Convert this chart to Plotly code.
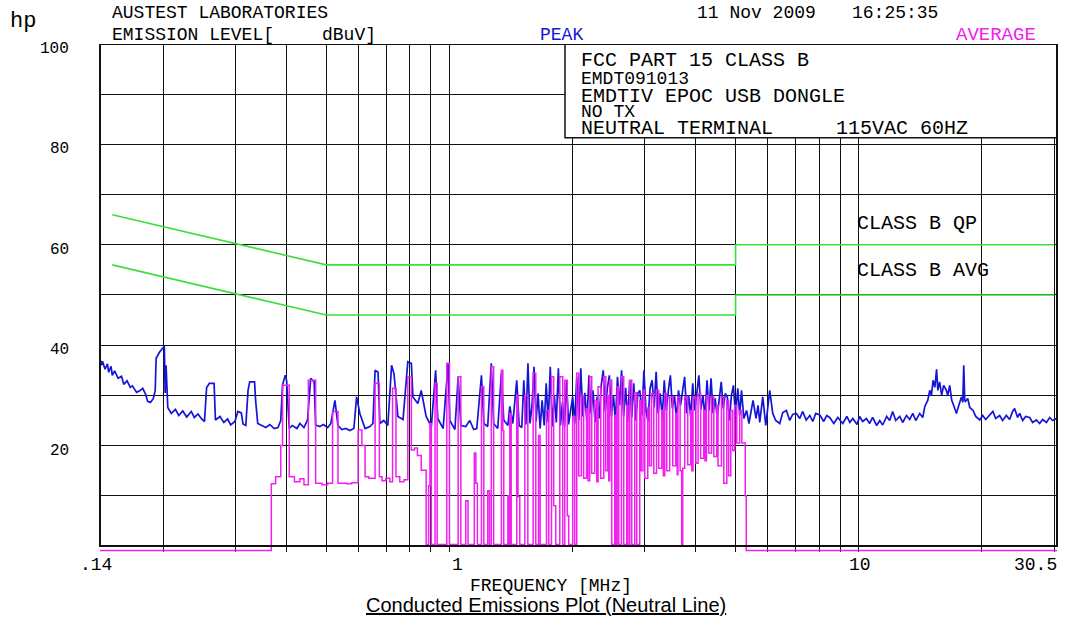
import math
import plotly.graph_objects as go

# ---------------- data ----------------
peak_freq = [0.140, 0.141, 0.142, 0.144, 0.146, 0.147, 0.149, 0.150, 0.152, 0.155, 0.158, 0.160, 0.163, 0.166, 0.168,
             0.172, 0.175, 0.178, 0.181, 0.183, 0.186, 0.189, 0.191, 0.192, 0.196, 0.200, 0.201, 0.202, 0.203, 0.205,
             0.209, 0.214, 0.218, 0.223, 0.228, 0.234, 0.238, 0.243, 0.248, 0.252, 0.255, 0.259, 0.266, 0.268, 0.275,
             0.281, 0.287, 0.292, 0.299, 0.304, 0.310, 0.313, 0.318, 0.322, 0.325, 0.334, 0.336, 0.340, 0.348, 0.356,
             0.364, 0.373, 0.381, 0.387, 0.391, 0.397, 0.400, 0.406, 0.413, 0.424, 0.431, 0.441, 0.450, 0.458, 0.467,
             0.471, 0.482, 0.492, 0.504, 0.513, 0.525, 0.534, 0.546, 0.558, 0.571, 0.584, 0.593, 0.604, 0.622, 0.639,
             0.650, 0.658, 0.669, 0.676, 0.691, 0.707, 0.722, 0.732, 0.748, 0.770, 0.791, 0.807, 0.814, 0.837, 0.853,
             0.877, 0.903, 0.925, 0.936, 0.965, 0.992, 1.002, 1.031, 1.050, 1.066, 1.096, 1.121, 1.146, 1.166, 1.197,
             1.213, 1.240, 1.265, 1.282, 1.312, 1.339, 1.357, 1.389, 1.404, 1.428, 1.460, 1.480,
             1.502, 1.519, 1.537, 1.555, 1.573, 1.591, 1.609, 1.628, 1.646, 1.665, 1.684, 1.704, 1.723, 1.743, 1.763,
             1.783, 1.804, 1.824, 1.845, 1.867, 1.888, 1.910, 1.932, 1.954, 1.977, 2.000, 2.023, 2.046, 2.070, 2.093,
             2.118, 2.142, 2.167, 2.192, 2.217, 2.242, 2.268, 2.294, 2.321, 2.348, 2.375, 2.402, 2.430, 2.458, 2.486,
             2.515, 2.544, 2.573, 2.603, 2.633, 2.663, 2.694, 2.725, 2.756, 2.788, 2.820, 2.852, 2.885, 2.918, 2.952,
             2.986, 3.020, 3.055, 3.090, 3.126, 3.162, 3.198, 3.235, 3.272, 3.310, 3.348, 3.387, 3.426, 3.465, 3.505,
             3.545, 3.586, 3.627, 3.669, 3.711, 3.754, 3.797, 3.841, 3.885, 3.930, 3.975, 4.021, 4.067, 4.114, 4.161,
             4.209, 4.258, 4.307, 4.356, 4.406, 4.457, 4.508, 4.560, 4.613, 4.666, 4.720, 4.774, 4.829, 4.885, 4.941,
             4.998, 5.063, 5.118, 5.169, 5.238, 5.320, 5.390, 5.516, 5.610, 5.674, 5.728, 5.826, 5.926, 6.059,
             6.163, 6.268, 6.410, 6.521, 6.656, 6.781, 6.895, 7.040, 7.173, 7.295, 7.44, 7.59, 7.72, 7.85, 8.03,
             8.21, 8.35, 8.49, 8.69, 8.89, 9.14, 9.35, 9.51, 9.67, 9.90, 10.05, 10.22, 10.44, 10.63, 10.81,
             11.06, 11.25, 11.44, 11.70, 11.90, 12.10, 12.31, 12.59, 12.80, 13.08, 13.32, 13.55, 13.78, 14.09, 14.33,
             14.50, 14.74, 14.91, 15.05, 15.19, 15.34, 15.49, 15.60, 15.76, 15.94, 16.12, 16.37, 16.49, 16.68, 16.87,
             17.06, 17.32, 17.55, 17.82, 17.95, 18.05, 18.15, 18.22, 18.46, 18.67, 19.02, 19.31, 19.74, 20.08, 20.42,
             20.88, 21.27, 21.60, 22.09, 22.46, 22.93, 23.36, 23.76, 24.03, 24.44, 24.72, 25.14, 25.57, 26.15, 26.59,
             27.15, 27.66, 28.13, 28.73, 29.27, 29.77, 30.40]
peak_level = [37.4, 36.0, 36.8, 35.2, 36.3, 34.6, 35.8, 34.0, 34.9, 33.4, 33.8, 32.2, 32.9, 31.6, 31.9,
              30.6, 30.9, 31.4, 30.2, 28.8, 28.6, 29.4, 31.0, 37.4, 38.7, 39.7, 39.8, 30.5, 36.0, 27.6,
              26.4, 27.2, 26.0, 26.9, 25.7, 26.8, 25.6, 26.3, 25.3, 24.8, 31.5, 32.4, 32.4, 25.1, 25.8,
              24.6, 25.3, 24.1, 24.8, 26.8, 26.5, 24.3, 24.0, 31.0, 32.7, 32.7, 29.0, 24.4, 24.0, 23.6,
              24.2, 23.4, 23.6, 25.0, 32.1, 34.0, 33.0, 23.4, 24.0, 23.4, 24.4, 23.6, 25.1, 33.4, 32.7,
              24.1, 23.8, 24.2, 23.6, 24.4, 29.0, 24.0, 23.2, 23.4, 23.0, 23.4, 29.7, 26.4, 23.4, 23.8,
              24.4, 35.0, 34.6, 24.4, 25.0, 24.0, 36.0, 34.3, 25.8, 25.2, 36.7, 36.4, 29.7, 28.4, 31.0,
              25.8, 23.8, 35.0, 25.4, 23.4, 36.4, 25.0, 23.2, 33.7, 24.0, 23.8, 25.0, 23.2, 23.4, 34.0,
              24.4, 23.8, 36.4, 24.4, 23.4, 34.4, 25.1, 24.0, 27.8, 24.4, 33.0, 24.0,
              23.6, 33.0, 24.2, 36.4, 24.4, 28.0, 35.7, 24.8, 30.4, 23.4, 29.0, 24.0, 32.4, 24.6, 35.7,
              23.8, 30.0, 24.6, 35.4, 24.0, 28.6, 23.8, 33.0, 24.2, 27.0, 29.7, 24.4, 33.7, 25.0, 35.4,
              25.8, 30.5, 24.6, 34.0, 26.4, 31.0, 24.6, 29.7, 25.4, 32.0, 35.0, 26.8, 31.4, 34.0, 25.8,
              30.0, 24.8, 33.7, 28.0, 35.0, 25.8, 31.5, 24.8, 33.0, 25.6, 32.4, 25.0, 30.4, 31.0, 26.0,
              35.0, 27.0, 24.8, 31.4, 33.0, 27.6, 34.7, 26.4, 30.4, 25.6, 33.0, 27.0, 31.0, 34.0, 27.4,
              30.0, 25.2, 31.0, 28.0, 30.4, 33.7, 26.4, 30.0, 25.8, 32.4, 27.0, 30.4, 34.0, 27.2, 30.0,
              25.6, 33.0, 27.0, 33.4, 26.4, 29.4, 25.6, 29.0, 32.7, 27.4, 30.4, 29.7, 25.0, 30.0, 32.0,
              25.8, 31.4, 26.0, 31.0, 25.4, 27.0, 24.4, 29.0, 25.4, 28.0, 24.6, 29.7, 24.0, 31.0,
              26.4, 25.0, 24.4, 26.6, 27.0, 25.0, 26.2, 26.4, 25.4, 26.8, 25.1, 26.0, 24.8, 26.4, 26.1,
              24.8, 26.0, 25.6, 24.4, 25.6, 24.4, 25.8, 24.6, 25.4, 24.2, 25.8, 24.8, 25.4, 24.4, 25.6,
              24.0, 25.0, 24.1, 25.8, 25.0, 26.8, 25.0, 25.8, 24.6, 26.0, 25.2, 26.4, 25.0, 26.4, 25.6,
              27.8, 29.0, 31.0, 30.0, 33.0, 31.6, 35.2, 31.0, 32.7, 30.0, 32.0, 31.0, 30.0, 32.0, 29.0,
              28.0, 26.4, 28.0, 29.7, 28.6, 36.0, 29.0, 28.8, 29.4, 27.6, 27.0, 25.8, 25.1, 26.0, 25.2,
              26.2, 26.8, 25.4, 26.0, 25.0, 26.0, 25.2, 26.8, 27.4, 25.6, 26.4, 25.0, 25.8, 25.6, 24.6,
              25.1, 24.4, 25.2, 24.6, 25.6, 25.0, 25.4]

avg_freq = [0.140, 0.367, 0.376, 0.387, 0.391, 0.406, 0.418, 0.431, 0.441, 0.452, 0.471, 0.488, 0.504, 0.518, 0.534,
            0.561, 0.577, 0.598, 0.611, 0.622, 0.635, 0.658, 0.674, 0.684, 0.699, 0.715, 0.726, 0.740, 0.756, 0.774,
            0.791, 0.807, 0.821, 0.835, 0.853, 0.877, 0.889, 0.896, 0.903, 0.922, 0.933, 0.985, 1.000, 1.050, 1.066,
            1.096, 1.110, 1.150, 1.160, 1.170, 1.197, 1.213, 1.240, 1.252, 1.265, 1.282, 1.339, 1.350, 1.357, 1.389,
            1.397, 1.404, 1.415, 1.460, 1.470, 1.485, 1.528, 1.554, 1.601, 1.625, 1.650, 1.665, 1.726, 1.748, 1.775,
            1.797, 1.818, 1.860, 1.891, 1.913, 1.940, 1.956, 2.000, 2.023, 2.046, 2.069, 2.100, 2.127, 2.162, 2.180,
            2.201, 2.226, 2.264, 2.290, 2.307, 2.342, 2.382, 2.409, 2.436, 2.450, 2.463, 2.491, 2.534, 2.550, 2.568,
            2.591, 2.631, 2.665, 2.711, 2.730, 2.757, 2.788, 2.836, 2.868, 2.916, 2.940, 2.971, 3.000, 3.051, 3.080,
            3.115, 3.156, 3.205, 3.245, 3.300, 3.330, 3.357, 3.395, 3.452, 3.512, 3.571, 3.600, 3.615, 3.660, 3.693,
            3.714, 3.757, 3.820, 3.885, 3.910, 3.936, 4.000, 4.049, 4.109, 4.180, 4.210, 4.245, 4.300, 4.366, 4.423,
            4.497, 4.530, 4.618, 4.679, 4.759, 4.810, 4.866, 4.921, 4.977, 5.034, 5.118, 5.180, 5.280, 5.310, 30.5]
avg_level = [-0.9, 12.4, 13.8, 20.0, 32.0, 13.8, 12.8, 13.4, 12.2, 33.0, 12.5, 12.2, 12.5, 26.8, 12.5,
             12.4, 12.6, 23.1, 20.0, 13.8, 13.5, 32.4, 13.8, 13.0, 13.5, 12.8, 31.4, 13.8, 12.8, 13.2,
             33.7, 19.1, 19.5, 18.0, 15.1, 0.3, 12.0, 24.4, 0.3, 32.4, 0.3, 36.4, 0.3, 33.7, 0.3,
             9.0, 0.3, 18.5, 12.5, 0.3, 31.7, 0.3, 11.0, 0.3, 35.7, 0.3, 35.0, 23.0, 0.3, 10.0,
             0.3, 26.4, 0.3, 30.0, 9.8, 0.3, 30.0, 0.3, 34.4, 0.3, 22.0, 0.3, 27.0, 0.3, 33.7,
             8.0, 0.3, 33.7, 0.3, 33.0, 6.0, 0.3, 25.8, 0.3, 34.4, 14.0, 30.0, 13.5, 27.4, 13.0,
             33.7, 14.5, 29.0, 12.8, 31.7, 13.5, 33.7, 15.0, 30.0, 13.0, 33.0, 0.3, 26.0, 0.3, 31.7,
             0.3, 33.7, 0.3, 28.0, 0.3, 33.0, 0.3, 30.5, 0.3, 29.0, 15.0, 31.0, 13.5, 27.5, 16.0,
             30.4, 14.5, 31.0, 15.5, 27.0, 14.0, 30.4, 15.0, 29.7, 16.0, 26.4, 14.2, 29.7, 15.0, 0.3,
             15.5, 29.7, 16.2, 27.0, 15.0, 29.7, 16.5, 30.4, 17.5, 27.0, 17.0, 30.0, 18.5, 29.7, 17.8,
             28.0, 16.0, 29.7, 12.5, 29.0, 14.0, 27.0, 19.0, 28.0, 20.5, 27.0, 20.5, 10.0, -0.9, -0.9]

qp_limit_freq = [0.15, 0.5, 5.0, 5.0, 30.0]
qp_limit_level = [66, 56, 56, 60, 60]
avg_limit_freq = [0.15, 0.5, 5.0, 5.0, 30.0]
avg_limit_level = [56, 46, 46, 50, 50]

x_grid = [0.2, 0.3, 0.4, 0.5, 0.6, 0.7, 0.8, 0.9, 1, 2, 3, 4, 5, 6, 7, 8, 9, 10, 20, 30]
y_grid = [10, 20, 30, 40, 50, 60, 70, 80, 90]
x_tick_text = [".14", "1", "10", "30.5"]
y_tick_text = ["100", "80", "60", "40", "20"]
y_tick_vals = [100, 80, 60, 40, 20]

# ---------------- layout geometry ----------------
W, H = 1073, 624
L, R, T, B = 100, 16, 44, 72
PW, PH = W - L - R, H - T - B
YMIN, YMAX = -1.2, 100


def px(xp):
    return (xp - L) / PW


def py(yp):
    return (H - B - yp) / PH


MONO = "Liberation Mono"
BLUE = "#1515d8"
MAG = "#f020f0"
GREEN = "#3ddd3d"

fig = go.Figure()
fig.add_trace(go.Scatter(x=qp_limit_freq, y=qp_limit_level, mode="lines",
                         line=dict(color=GREEN, width=1.6), hoverinfo="skip"))
fig.add_trace(go.Scatter(x=avg_limit_freq, y=avg_limit_level, mode="lines",
                         line=dict(color=GREEN, width=1.6), hoverinfo="skip"))
fig.add_trace(go.Scatter(x=peak_freq, y=peak_level, mode="lines",
                         line=dict(color=BLUE, width=1.7)))
fig.add_trace(go.Scatter(x=avg_freq, y=avg_level, mode="lines", line_shape="hv",
                         line=dict(color=MAG, width=1.5)))

anns = []


def ann(text, xp, yp, xanchor="left", size=17, color="black", family=MONO):
    anns.append(dict(text=text, x=px(xp), y=py(yp), xref="paper", yref="paper",
                     xanchor=xanchor, yanchor="middle", showarrow=False,
                     font=dict(family=family, size=size, color=color)))


# header
ann("hp", 8, 21, size=22)
ann("AUSTEST LABORATORIES", 110, 13, size=18)
ann("EMISSION LEVEL[", 110, 35, size=18)
ann("dBuV]", 320, 35, size=18)
ann("PEAK", 538, 35, size=18, color=BLUE)
ann("11 Nov 2009", 695, 13, size=18)
ann("16:25:35", 850, 13, size=18)
ann("AVERAGE", 1038, 35, xanchor="right", size=19, color=MAG)

# info box text
ann("FCC PART 15 CLASS B", 579, 60, size=20)
ann("EMDT091013", 579, 79, size=18)
ann("EMDTIV EPOC USB DONGLE", 579, 96, size=20)
ann("NO TX", 579, 112, size=18)
ann("NEUTRAL TERMINAL", 579, 128, size=20)
ann("115VAC 60HZ", 834, 128, size=20)

# limit labels
ann("CLASS B QP", 855, 223, size=20)
ann("CLASS B AVG", 855, 270, size=20)

# y tick labels
for lab, v in zip(y_tick_text, y_tick_vals):
    yp = 546 - v * 5.02
    ann(lab, 71, yp + 5, xanchor="right", size=16)

# x tick labels
for lab, xp_, xa in zip(x_tick_text, [96, 457, 860, 1059], ["center", "center", "center", "right"]):
    ann(lab, xp_, 565, xanchor=xa, size=18)

ann("FREQUENCY [MHz]", 551, 586, xanchor="center", size=18)
ann("<u>Conducted Emissions Plot (Neutral Line)</u>", 546, 605, xanchor="center", size=20,
    family="Liberation Sans")

shapes = [
    # info box
    dict(type="rect", xref="paper", yref="y", x0=px(565), x1=1, y0=81.3, y1=100,
         fillcolor="white", line=dict(color="#111", width=1.5), layer="above"),
    # plot frame
    dict(type="rect", xref="paper", yref="y", x0=0, x1=1, y0=0, y1=100,
         line=dict(color="#111", width=2), layer="above"),
]

fig.update_layout(
    width=W, height=H, margin=dict(l=L, r=R, t=T, b=B),
    paper_bgcolor="white", plot_bgcolor="white", showlegend=False,
    annotations=anns, shapes=shapes,
    xaxis=dict(type="log", range=[math.log10(0.14), math.log10(30.5)],
               tickvals=x_grid, showticklabels=False, ticks="",
               showgrid=True, gridcolor="#111", gridwidth=1.4, zeroline=False, showline=False),
    yaxis=dict(range=[YMIN, YMAX], tickvals=y_grid, showticklabels=False, ticks="",
               showgrid=True, gridcolor="#111", gridwidth=1.4, zeroline=False, showline=False),
)

# remove the default 8px page margin so the figure fills the window exactly
fig.write_html("out.html", config={"displayModeBar": False},
               post_script="document.body.style.margin='0';document.body.style.overflow='hidden';")
